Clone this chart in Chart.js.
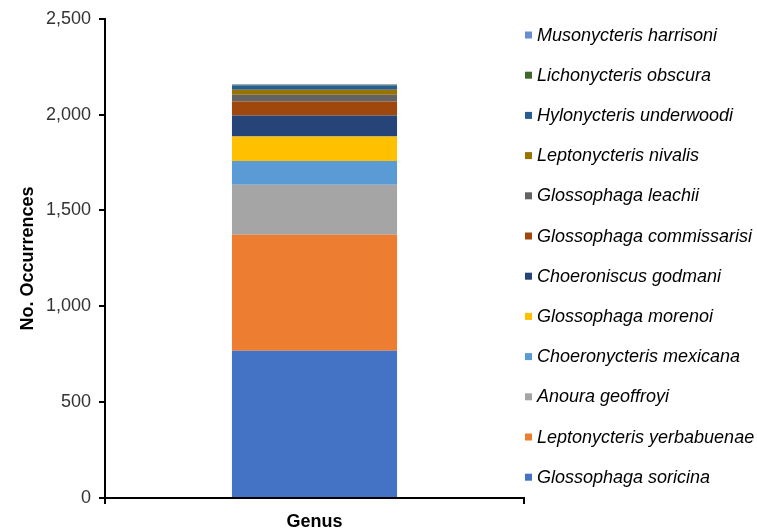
<!DOCTYPE html>
<html>
<head>
<meta charset="utf-8">
<script src="https://cdn.jsdelivr.net/npm/chart.js@4.4.1/dist/chart.umd.min.js"></script>
<style>
  html, body { margin: 0; padding: 0; background: #ffffff; }
  #wrap { width: 757px; height: 532px; position: relative; }
</style>
</head>
<body>
<div id="wrap"><canvas id="c" width="757" height="532"></canvas></div>
<script>
// Occurrence records per species, stacked within the single genus bar (bottom to top)
const categories = ['Genus'];
const species = [
  'Glossophaga soricina',
  'Leptonycteris yerbabuenae',
  'Anoura geoffroyi',
  'Choeronycteris mexicana',
  'Glossophaga morenoi',
  'Choeroniscus godmani',
  'Glossophaga commissarisi',
  'Glossophaga leachii',
  'Leptonycteris nivalis',
  'Hylonycteris underwoodi',
  'Lichonycteris obscura',
  'Musonycteris harrisoni'
];
const occurrences = [768, 606, 260, 124, 128, 110, 72, 36, 26, 22, 4, 3];
const colors = [
  '#4472C4', '#ED7D31', '#A5A5A5', '#5B9BD5', '#FFC000', '#264478',
  '#9E480E', '#636363', '#997300', '#255E91', '#43682B', '#698ED0'
];
const yTicks = [0, 500, 1000, 1500, 2000, 2500];

const FONT = '"Liberation Sans", Arial, Helvetica, sans-serif';

const datasets = species.map((name, i) => ({
  label: name,
  data: [occurrences[i]],
  backgroundColor: colors[i],
  borderWidth: 0,
  categoryPercentage: 1.0,
  barPercentage: 0.394
}));

// Legend listed top-of-stack first, spread down the right-hand side
const sideLegend = {
  id: 'sideLegend',
  afterDraw(chart) {
    const ctx = chart.ctx;
    const ds = chart.data.datasets;
    const x0 = chart.chartArea.right + 1;
    const y0 = 35;
    const step = 40.2;
    ctx.save();
    ctx.font = 'italic 18px ' + FONT;
    ctx.textBaseline = 'middle';
    ctx.textAlign = 'left';
    for (let k = 0; k < ds.length; k++) {
      const d = ds[ds.length - 1 - k];
      const y = y0 + k * step;
      ctx.fillStyle = d.backgroundColor;
      ctx.fillRect(x0, y - 3.5, 7, 7);
      ctx.fillStyle = '#000000';
      ctx.fillText(d.label, x0 + 12, y + 0.5);
    }
    ctx.restore();
  }
};

new Chart(document.getElementById('c'), {
  type: 'bar',
  data: { labels: categories, datasets },
  options: {
    responsive: false,
    animation: false,
    devicePixelRatio: 1,
    layout: { padding: { left: 0, right: 233, top: 16, bottom: 0 } },
    plugins: { legend: { display: false }, tooltip: { enabled: false } },
    scales: {
      x: {
        stacked: true,
        offset: true,
        afterFit(scale) { scale.height = 34; },
        grid: {
          display: true,
          offset: true,
          drawOnChartArea: false,
          drawTicks: true,
          tickLength: 6,
          color: '#000000',
          lineWidth: 2
        },
        border: { display: true, color: '#000000', width: 2 },
        ticks: {
          color: '#000000',
          font: { family: FONT, size: 18, weight: 'bold' },
          padding: 7
        }
      },
      y: {
        stacked: true,
        min: yTicks[0],
        max: yTicks[yTicks.length - 1],
        afterBuildTicks(scale) { scale.ticks = yTicks.map(v => ({ value: v })); },
        afterFit(scale) { scale.width = 105; },
        grid: {
          display: true,
          drawOnChartArea: false,
          drawTicks: true,
          tickLength: 6,
          color: '#000000',
          lineWidth: 2
        },
        border: { display: true, color: '#000000', width: 2 },
        ticks: {
          color: '#333333',
          font: { family: FONT, size: 18 },
          padding: 8,
          callback: v => v.toLocaleString('en-US')
        },
        title: {
          display: true,
          text: 'No. Occurrences',
          color: '#000000',
          font: { family: FONT, size: 18, weight: 'bold' },
          padding: { top: 17, bottom: 0 }
        }
      }
    }
  },
  plugins: [sideLegend]
});
</script>
</body>
</html>
